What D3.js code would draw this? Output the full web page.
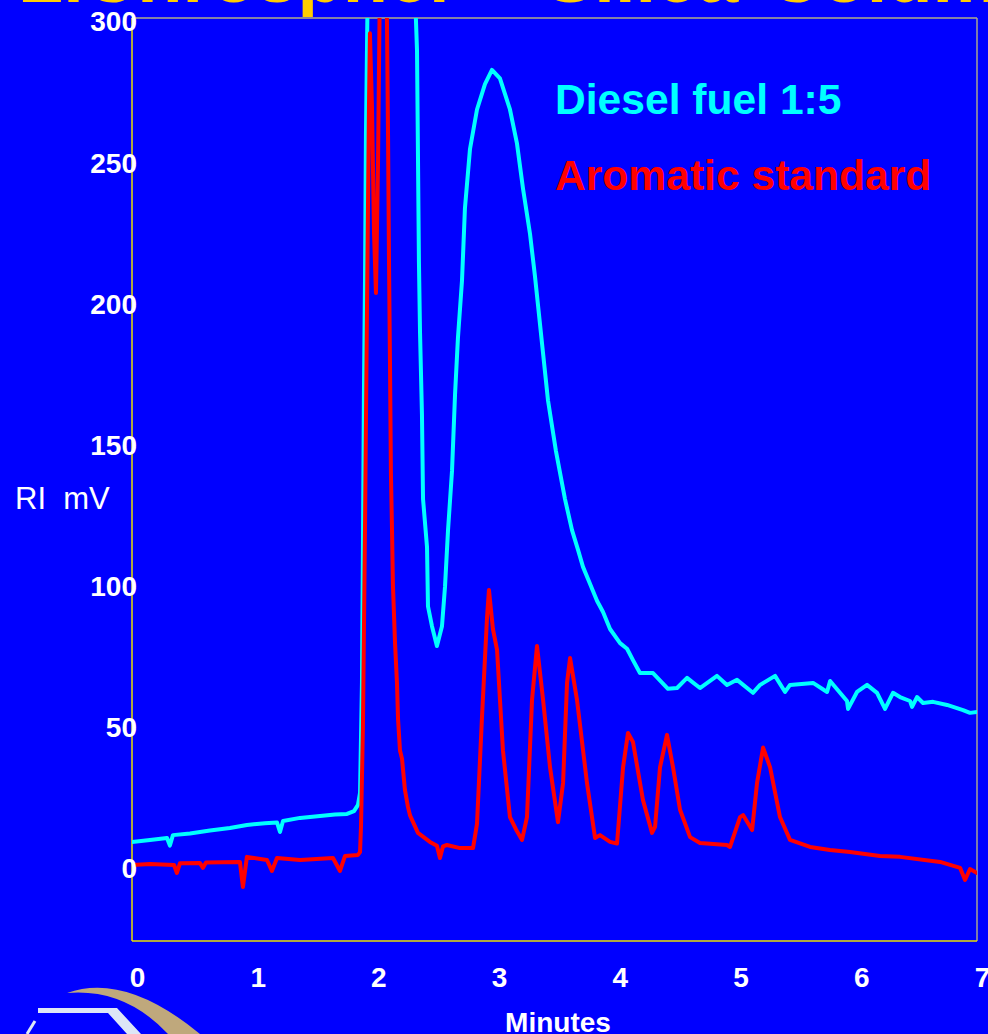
<!DOCTYPE html>
<html>
<head>
<meta charset="utf-8">
<script src="https://cdn.jsdelivr.net/npm/d3@7"></script>
<style>
  html, body { margin: 0; padding: 0; background: #0000FF; }
  svg { display: block; }
  text { font-family: "Liberation Sans", Arial, sans-serif; }
</style>
</head>
<body>
<svg id="chart" width="988" height="1034"></svg>
<script>
// ---- data (minutes, mV) ----
const dieselTime = [-0.041,0.108,0.249,0.273,0.298,0.439,0.605,0.770,0.911,1.060,1.160,1.185,1.210,1.351,1.516,1.640,1.740,1.798,1.831,1.848,1.864,1.872,1.880,1.889,1.897,1.914,1.972,2.096,2.220,2.287,2.320,2.336,2.345,2.361,2.370,2.403,2.411,2.444,2.485,2.527,2.552,2.577,2.610,2.635,2.659,2.693,2.717,2.759,2.817,2.883,2.941,3.007,3.090,3.148,3.198,3.256,3.297,3.405,3.471,3.546,3.604,3.654,3.695,3.753,3.811,3.861,3.919,4.002,4.060,4.109,4.167,4.275,4.399,4.474,4.557,4.664,4.805,4.888,4.971,5.103,5.162,5.286,5.369,5.410,5.601,5.717,5.742,5.882,5.891,5.965,6.048,6.131,6.197,6.263,6.321,6.404,6.421,6.462,6.512,6.595,6.711,6.843,6.901,6.959];
const dieselMV   = [9.6,10.3,11.0,8.3,12.0,12.6,13.6,14.5,15.6,16.2,16.5,13.1,17.0,18.1,18.8,19.3,19.5,20.5,22.7,27,66,113,167,208,260,320,420,480,400,330,290,215,190,161,131,114,93,86,79,86,100,120,141,168,188,208.6,234,255,269,278,283,280,269,257,241,225,210,166,148,131,120,113,107,101,95,91,85,80,78,74,69.4,69.4,63.8,64.1,67.7,64.1,68.4,65.2,67.0,62.4,65.2,68.4,62.7,65.2,65.9,62.7,66.6,59.5,56.7,62.7,65.2,62.4,56.7,62.4,60.9,59.5,57.4,60.9,58.8,59.2,58.1,56.3,55.3,55.6];

const aromaticTime = [-0.041,0.108,0.307,0.331,0.356,0.522,0.547,0.572,0.853,0.878,0.911,1.077,1.118,1.160,1.351,1.624,1.682,1.723,1.831,1.848,1.856,1.872,1.889,1.906,1.922,1.930,1.947,1.964,1.980,1.997,2.014,2.038,2.063,2.071,2.080,2.088,2.096,2.104,2.113,2.121,2.138,2.154,2.163,2.179,2.196,2.220,2.245,2.262,2.328,2.427,2.485,2.510,2.535,2.568,2.676,2.784,2.817,2.858,2.900,2.916,2.949,2.983,3.032,3.090,3.140,3.190,3.231,3.273,3.314,3.364,3.422,3.488,3.530,3.563,3.588,3.645,3.728,3.795,3.836,3.919,3.977,4.027,4.068,4.109,4.192,4.267,4.292,4.333,4.391,4.441,4.499,4.582,4.664,4.888,4.913,4.996,5.021,5.096,5.137,5.187,5.245,5.327,5.410,5.576,5.741,5.907,6.156,6.321,6.653,6.819,6.860,6.901,6.959];
const aromaticMV   = [1.4,1.8,1.4,-1.4,2.0,2.1,0.4,2.3,2.5,-6.4,4.3,3.2,-0.7,3.9,3.2,3.9,-0.7,4.6,5.0,6,15,50,120,200,270,296,270,225,204,250,320,400,330,301,260,215,180,140,120,100,80,66,53,42,39,28,22,19,12.8,9.6,8.2,3.9,8.0,8.5,7.4,7.4,16,53.5,89,98.8,85,77.6,42,18.4,14,10.3,18.4,60,79,60,36,16.6,30.5,66,74.7,60,30.5,11,12,9.6,9,36,48.2,45,24.4,12.8,14.9,36,47.5,36,21,11.3,9.2,8.5,7.8,18.4,19.1,13.8,30.5,43,36,18.4,10.3,7.8,6.7,6.0,4.6,4.3,2.5,0.4,-3.9,0,-1.4];

const xTicks = [0, 1, 2, 3, 4, 5, 6, 7];
const yTicks = [0, 50, 100, 150, 200, 250, 300];
const seriesNames = ["Diesel fuel 1:5", "Aromatic standard"];
const titleWords = ["LiChrospher", "Silica", "Column"];

// ---- layout ----
const plot = { left: 132, right: 977, top: 18, bottom: 941 };
const svg = d3.select("#chart");

svg.append("rect").attr("width", 988).attr("height", 1034).attr("fill", "#0000FF");

const x = d3.scaleLinear().domain([-0.041, 6.959]).range([plot.left, plot.right]);
const y = d3.scaleLinear().domain([-25.5, 301.4]).range([plot.bottom, plot.top]);

// title (cut off at the top edge, as in the reference)
const title = svg.append("text")
  .attr("y", 2)
  .attr("fill", "#FFCC00")
  .attr("font-weight", "bold")
  .attr("font-size", 74);
const titleX = [18, 545, 768];
titleWords.forEach((w, i) => {
  title.append("tspan").attr("x", titleX[i]).text(w);
});

// clip
svg.append("clipPath").attr("id", "plotclip")
  .append("rect")
  .attr("x", plot.left).attr("y", plot.top)
  .attr("width", plot.right - plot.left).attr("height", plot.bottom - plot.top);

// frame
const fg = svg.append("g");
fg.append("line").attr("x1", plot.left).attr("x2", plot.right).attr("y1", plot.top).attr("y2", plot.top)
  .attr("stroke", "#B0AC88").attr("stroke-width", 1.5);
fg.append("line").attr("x1", plot.right).attr("x2", plot.right).attr("y1", plot.top).attr("y2", plot.bottom)
  .attr("stroke", "#A8A490").attr("stroke-width", 1.5);
fg.append("line").attr("x1", plot.left).attr("x2", plot.left).attr("y1", plot.top).attr("y2", plot.bottom)
  .attr("stroke", "#E8E000").attr("stroke-width", 1.5);
fg.append("line").attr("x1", plot.left).attr("x2", plot.right).attr("y1", plot.bottom).attr("y2", plot.bottom)
  .attr("stroke", "#E8E000").attr("stroke-width", 1.5);

// lines
const line = d3.line().x(d => x(d[0])).y(d => y(d[1])).curve(d3.curveLinear);
const dieselData = dieselTime.map((t, i) => [t, dieselMV[i]]);
const aromaticData = aromaticTime.map((t, i) => [t, aromaticMV[i]]);

const lg = svg.append("g").attr("clip-path", "url(#plotclip)");
lg.append("path").datum(dieselData).attr("d", line)
  .attr("fill", "none").attr("stroke", "#00FFFF").attr("stroke-width", 4)
  .attr("stroke-linejoin", "round").attr("stroke-linecap", "round");
lg.append("path").datum(aromaticData).attr("d", line)
  .attr("fill", "none").attr("stroke", "#FF0000").attr("stroke-width", 4)
  .attr("stroke-linejoin", "round").attr("stroke-linecap", "round");

// axes
const yAxis = svg.append("g").attr("transform", `translate(${plot.left},0)`)
  .call(d3.axisLeft(y).tickValues(yTicks).tickSize(0).tickPadding(-5).tickFormat(d3.format("d")));
yAxis.select(".domain").remove();
yAxis.selectAll("text").attr("fill", "#FFFFFF").attr("font-size", 28).attr("font-weight", "bold")
  .attr("font-family", "Liberation Sans, Arial, sans-serif");

const xAxis = svg.append("g").attr("transform", `translate(0,${plot.bottom})`)
  .call(d3.axisBottom(x).tickValues(xTicks).tickSize(0).tickPadding(26).tickFormat(d3.format("d")));
xAxis.select(".domain").remove();
xAxis.selectAll("text").attr("fill", "#FFFFFF").attr("font-size", 28).attr("font-weight", "bold")
  .attr("font-family", "Liberation Sans, Arial, sans-serif");

// axis titles
svg.append("text").attr("x", 15).attr("y", 509)
  .attr("fill", "#FFFFFF").attr("font-size", 31)
  .style("white-space", "pre").text("RI  mV");
svg.append("text").attr("x", 558).attr("y", 1032).attr("text-anchor", "middle")
  .attr("fill", "#FFFFFF").attr("font-size", 28).attr("font-weight", "bold").text("Minutes");

// legend labels
svg.append("text").attr("x", 555).attr("y", 114)
  .attr("fill", "#00FFFF").attr("font-size", 42.6).attr("font-weight", "bold").text(seriesNames[0]);
svg.append("text").attr("x", 555).attr("y", 190)
  .attr("fill", "#FF0000").attr("font-size", 42.6).attr("font-weight", "bold").text(seriesNames[1]);

// logo fragment (bottom left)
svg.append("path")
  .attr("d", "M67,993 Q125,972 200,1034 L168,1034 Q125,988 67,993 Z")
  .attr("fill", "#BFA87C");
svg.append("path")
  .attr("d", "M38,1008 L117,1008 L141,1034 L127,1034 L108,1013 L38,1013 Z")
  .attr("fill", "#DDE6F6");
svg.append("line").attr("x1", 35).attr("y1", 1021).attr("x2", 27).attr("y2", 1034)
  .attr("stroke", "#DDE6F6").attr("stroke-width", 3);
</script>
</body>
</html>
